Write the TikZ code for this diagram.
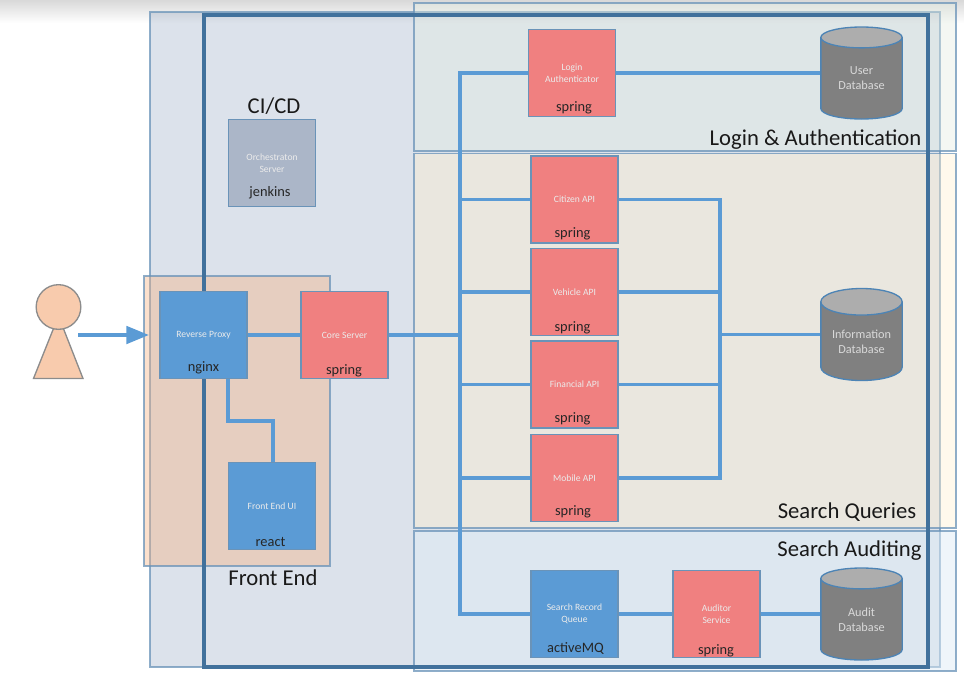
\documentclass[tikz,border=0pt]{standalone}
\usepackage{fontspec}
\setmainfont{Carlito}
\usetikzlibrary{arrows.meta,shapes.geometric}
\definecolor{wireblue}{HTML}{5B9BD5}
\definecolor{framedark}{HTML}{41719C}
\definecolor{edgeblue}{HTML}{6A93B8}
\definecolor{boxred}{HTML}{F08080}
\definecolor{boxgrey}{HTML}{ABB6C8}
\definecolor{skin}{HTML}{F8CBAD}
\tikzset{
	region/.style={draw=edgeblue, draw opacity=0.75, line width=0.8pt, fill opacity=#1},
	region/.default=0.4,
	wire/.style={draw=wireblue, line width=2.9pt},
	svcbox/.style={draw=edgeblue, line width=1.1pt, minimum size=65pt, inner sep=0pt, align=center, text=white!92!black, font=\fontsize{7.2}{9}\selectfont},
	redbox/.style={svcbox, fill=boxred},
	bluebox/.style={svcbox, fill=wireblue},
	greybox/.style={svcbox, fill=boxgrey},
	tech/.style={text=black!85, font=\fontsize{10.8}{12}\selectfont},
	title/.style={text=black!90, font=\fontsize{17}{20}\selectfont},
	dbnode/.style={cylinder, anchor=shape center, shape border rotate=90, aspect=0.45, draw=wireblue!85!black, line width=1pt, cylinder uses custom fill, cylinder body fill=black!50, cylinder end fill=black!32, minimum width=61pt, minimum height=69pt, inner sep=0pt, align=center, text=white!85!black, font=\fontsize{9.2}{11.2}\selectfont}
}
\begin{document}
\begin{tikzpicture}[x=0.75pt, y=-0.75pt]
	\useasboundingbox (0,0) rectangle (964,672);
	%window shadow
	\shade[top color=black!15, bottom color=white] (0,0) rectangle (964,23);

	%regions
	\path[region=0.18, fill={rgb,255:red,63;green,95;blue,143}] (150,12) rectangle (940,667);
	\path[region, fill={rgb,255:red,227;green,236;blue,225}] (414,3) rectangle (956,151);
	\path[region, fill={rgb,255:red,255;green,240;blue,207}] (414,153.5) rectangle (956,528);
	\path[region=0.49, fill={rgb,255:red,222;green,235;blue,245}] (414,531) rectangle (956,671);
	\path[region, fill={rgb,255:red,245;green,177;blue,130}] (144,276) rectangle (330,566);
	\draw[framedark, line width=3pt] (204,15) rectangle (928,667);

	%titles
	\node[title] (cicdtitle) at (274,106.5){CI/CD};
	\node[title] (logintitle) at (815.5,139.5){Login \& Authentication};
	\node[title] (frontendtitle) at (273,577.5){Front End};
	\node[title] (querytitle) at (847,512){Search Queries};
	\node[title] (audittitle) at (849.5,550.5){Search Auditing};

	%user
	\draw[draw=black!45, line width=1pt, fill=skin] (33.5,378.5) -- (58.5,316) -- (83,378.5) -- cycle;
	\node[circle, draw=black!45, line width=1pt, fill=skin, minimum size=33.5pt, inner sep=0pt] (head) at (58.5,307){};

	%services
	\foreach \name/\x/\y/\txt in {login/572/73/{Login\\Authenticator}, citizen/574.5/199.5/{Citizen API}, vehicle/574.5/292/{Vehicle API}, financial/574.5/384.5/{Financial API}, mobile/574.5/478/{Mobile API}, core/344.5/335/{Core Server}, auditor/716.5/614/{Auditor\\Service}}{
		\node[redbox] (\name) at (\x,\y){\txt};
	}
	\node[bluebox] (proxy) at (203.5,335){Reverse Proxy};
	\node[bluebox] (frontui) at (272,506){Front End UI};
	\node[bluebox] (queue) at (574.5,614){Search Record\\Queue};
	\node[greybox] (orchestration) at (272,163){Orchestraton\\Server};

	%technology names
	\node[tech] (jenkinstech) at (270,193){jenkins};
	\node[tech] (nginxtech) at (203.5,368){nginx};
	\node[tech] (reacttech) at (270.5,541.5){react};
	\node[tech] (coretech) at (344,371){spring};
	\node[tech] (logintech) at (574,108){spring};
	\node[tech] (citizentech) at (572.5,234){spring};
	\node[tech] (vehicletech) at (572.5,328){spring};
	\node[tech] (financialtech) at (572.5,419){spring};
	\node[tech] (mobiletech) at (573,512){spring};
	\node[tech] (queuetech) at (575.5,648.5){activeMQ};
	\node[tech] (auditortech) at (716,651){spring};

	%databases
	\node[dbnode] (userdb) at (861.5,73){User\\Database};
	\node[dbnode] (infodb) at (861.5,334.5){Information\\Database};
	\node[dbnode] (auditdb) at (861.5,614){Audit\\Database};

	%connectors
	\coordinate (arrowstart) at (78,335);
	\coordinate (arrowend) at (149,335);
	\coordinate (bustop) at (460,73);
	\coordinate (busbottom) at (460,614);
	\coordinate (collecttop) at (720,199.5);
	\coordinate (collectbottom) at (720,478);
	\coordinate (uibend) at (228,421);
	\draw[wire, -{Triangle[length=17pt, width=13pt]}] (arrowstart) -- (arrowend);
	\draw[wire] (proxy) -- (core);
	\draw[wire] (proxy.south -| uibend) -- (uibend) -| (frontui.north -| 273,0);
	\draw[wire] (core.east) -- (core.east -| bustop);
	\draw[wire] (login.west) -- (bustop) -- (busbottom) -- (queue.west);
	\draw[wire] (login.east) -- (login.east -| userdb.west);
	\draw[wire] (queue) -- (auditor);
	\draw[wire] (auditor) -- (auditor.east -| auditdb.west);
	\draw[wire] (citizen.east) -- (collecttop) -- (collectbottom) -- (mobile.east);
	\draw[wire] (collecttop |- infodb.shape center) -- (collecttop |- infodb.shape center -| infodb.west);
	\foreach \name in {citizen, vehicle, financial, mobile}{
		\draw[wire] (\name.west -| bustop) -- (\name.west);
	}
	\draw[wire] (vehicle.east) -- (vehicle.east -| collecttop);
	\draw[wire] (financial.east) -- (financial.east -| collecttop);
\end{tikzpicture}
\end{document}
